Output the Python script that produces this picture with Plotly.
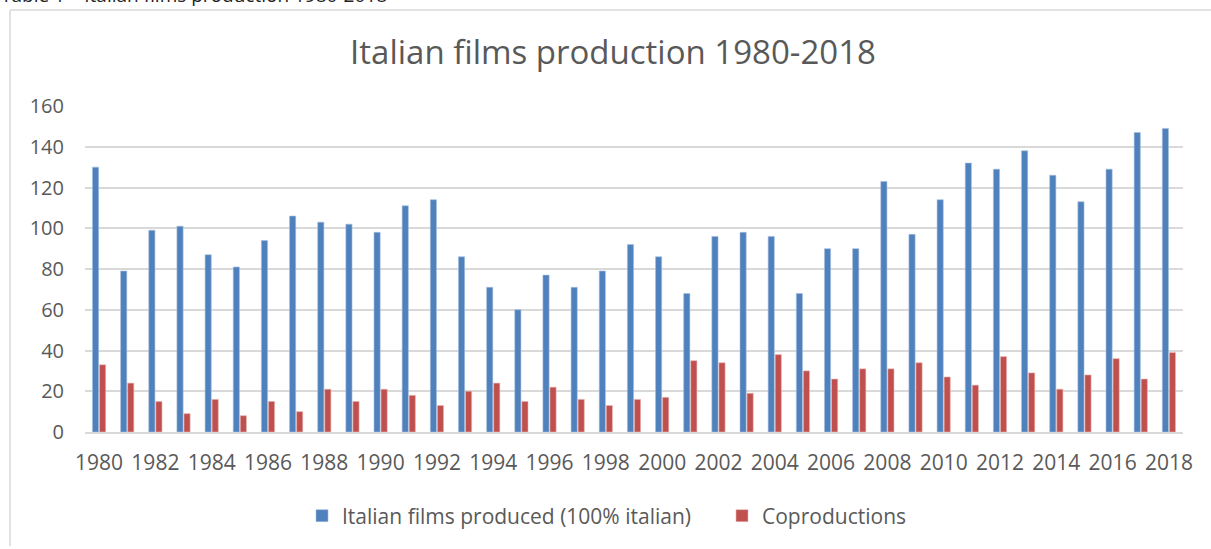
import plotly.graph_objects as go

years = list(range(1980, 2019))
italian = [130, 79, 99, 101, 87, 81, 94, 106, 103, 102, 98, 111, 114, 86, 71, 60, 77, 71, 79, 92,
           86, 68, 96, 98, 96, 68, 90, 90, 123, 97, 114, 132, 129, 138, 126, 113, 129, 147, 149]
coprod = [33, 24, 15, 9, 16, 8, 15, 10, 21, 15, 21, 18, 13, 20, 24, 15, 22, 16, 13, 16,
          17, 35, 34, 19, 38, 30, 26, 31, 31, 34, 27, 23, 37, 29, 21, 28, 36, 26, 39]
tick_years = years[::2]
y_ticks = [0, 20, 40, 60, 80, 100, 120, 140, 160]

W, H = 1211, 549
L, R, T, B = 85, 28, 106, 115
pw, ph = W - L - R, H - T - B

def px_x(x):
    return (x - L) / pw

def px_y(y):
    return (H - B - y) / ph

FONT = "Open Sans"
GREY = "#595959"

fig = go.Figure()
fig.add_trace(go.Bar(x=years, y=italian, name="Italian films produced (100% italian)",
                     marker=dict(color="#4f81bd", line=dict(color="#a7bfde", width=0.6))))
fig.add_trace(go.Bar(x=years, y=coprod, name="Coproductions",
                     marker=dict(color="#c0504d", line=dict(color="#e6b9b8", width=0.6))))

fig.update_layout(
    width=W, height=H,
    margin=dict(l=L, r=R, t=T, b=B),
    paper_bgcolor="white", plot_bgcolor="white",
    barmode="group", bargap=0.5, bargroupgap=0.12,
    font=dict(family=FONT, color=GREY, size=21),
    title=dict(text="Italian films production 1980-2018", x=px_x(613), xref="paper", xanchor="center",
               y=1 - 52.5 / H, yanchor="middle", font=dict(size=33, color=GREY, family=FONT)),
    legend=dict(orientation="h", x=px_x(302), xanchor="left", y=px_y(518.5), yanchor="middle",
                font=dict(size=21, color=GREY), itemwidth=30, traceorder="normal",
                entrywidth=375),
    xaxis=dict(range=[1979.5, 2018.5], tickmode="array", tickvals=tick_years,
               ticktext=[str(y) for y in tick_years], showgrid=False, zeroline=False,
               showline=True, linecolor="#d9d9d9", linewidth=1.5,
               ticks="outside", ticklen=11, tickcolor="rgba(0,0,0,0)",
               tickfont=dict(size=21, color=GREY)),
    yaxis=dict(range=[0, 160], tickvals=y_ticks, showgrid=True, gridcolor="#d9d9d9", gridwidth=1.5,
               zeroline=False, showline=False, ticklabelstandoff=20,
               tickfont=dict(size=20, color=GREY)),
    showlegend=True,
)

# outer chart border (left and top edges visible)
fig.add_shape(type="line", xref="paper", yref="paper", x0=px_x(10), x1=px_x(W), y0=px_y(9.5), y1=px_y(9.5),
              line=dict(color="#d9d9d9", width=1.5))
fig.add_shape(type="line", xref="paper", yref="paper", x0=px_x(10), x1=px_x(10), y0=px_y(9.5), y1=px_y(H),
              line=dict(color="#d9d9d9", width=1.5))

# cropped document caption at the very top
fig.add_annotation(text="Table 1 – Italian films production 1980-2018", xref="paper", yref="paper",
                   x=px_x(-1), xanchor="left", y=px_y(9), yanchor="bottom", showarrow=False,
                   font=dict(size=19, color="#222222", family=FONT))

fig.write_html("out.html", config={"displayModeBar": False},
               post_script="document.body.style.margin='0';")
